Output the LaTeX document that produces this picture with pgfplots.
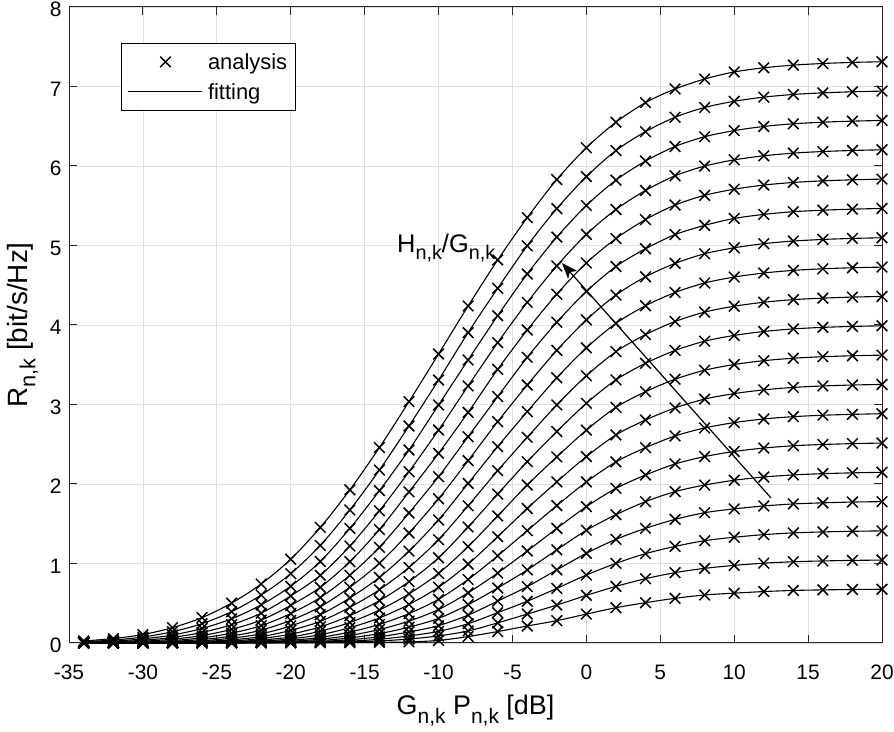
\documentclass[border=0pt]{standalone}
\usepackage{fontspec}
\setmainfont{Liberation Sans}
\usepackage{graphicx}
\usepackage{pgfplots}
\usepackage{pgfplotstable}
\pgfplotsset{compat=1.18}
\usetikzlibrary{arrows.meta}
\newcommand{\sub}[1]{\raisebox{-0.3em}{\scalebox{0.78}{#1}}}
\definecolor{gridgray}{RGB}{223,223,223}
\definecolor{axgray}{RGB}{38,38,38}

\pgfplotstableread{
x k0 k1 k2 k3 k4 k5 k6 k7 k8 k9 k10 k11 k12 k13 k14 k15 k16 k17 k18
-34 0.000 0.000 0.000 0.001 0.001 0.001 0.001 0.002 0.002 0.002 0.002 0.002 0.003 0.004 0.005 0.007 0.011 0.017 0.025
-32 0.000 0.000 0.001 0.001 0.001 0.002 0.002 0.002 0.002 0.003 0.003 0.004 0.005 0.007 0.010 0.016 0.023 0.037 0.056
-30 0.000 0.001 0.001 0.002 0.002 0.002 0.003 0.003 0.003 0.003 0.004 0.006 0.009 0.015 0.022 0.034 0.052 0.075 0.106
-28 0.001 0.001 0.002 0.002 0.003 0.003 0.003 0.003 0.004 0.006 0.008 0.013 0.020 0.031 0.048 0.070 0.100 0.142 0.193
-26 0.001 0.002 0.002 0.003 0.003 0.003 0.004 0.006 0.008 0.012 0.019 0.028 0.044 0.065 0.093 0.133 0.183 0.243 0.319
-24 0.002 0.002 0.003 0.003 0.004 0.005 0.007 0.011 0.017 0.025 0.040 0.061 0.087 0.124 0.172 0.230 0.304 0.394 0.502
-22 0.002 0.003 0.004 0.005 0.007 0.010 0.016 0.023 0.037 0.056 0.080 0.115 0.162 0.218 0.288 0.375 0.480 0.603 0.742
-20 0.002 0.004 0.006 0.009 0.015 0.022 0.034 0.052 0.075 0.111 0.159 0.215 0.284 0.370 0.473 0.592 0.714 0.872 1.054
-18 0.003 0.008 0.013 0.020 0.031 0.048 0.070 0.104 0.149 0.203 0.272 0.356 0.456 0.572 0.701 0.851 1.025 1.228 1.454
-16 0.004 0.014 0.023 0.041 0.064 0.095 0.138 0.193 0.258 0.344 0.449 0.567 0.702 0.852 1.023 1.220 1.442 1.673 1.926
-14 0.007 0.026 0.047 0.078 0.118 0.170 0.234 0.315 0.415 0.533 0.670 0.825 1.004 1.204 1.427 1.663 1.916 2.176 2.459
-12 0.014 0.050 0.089 0.139 0.199 0.275 0.370 0.485 0.618 0.772 0.951 1.156 1.384 1.636 1.901 2.155 2.428 2.730 3.036
-10 0.032 0.089 0.146 0.218 0.309 0.421 0.550 0.702 0.875 1.072 1.300 1.548 1.814 2.092 2.386 2.679 2.994 3.308 3.635
-8 0.081 0.151 0.243 0.351 0.482 0.631 0.799 0.992 1.213 1.459 1.726 2.008 2.294 2.595 2.901 3.233 3.560 3.904 4.239
-6 0.144 0.253 0.382 0.527 0.692 0.880 1.096 1.337 1.598 1.874 2.168 2.470 2.784 3.099 3.442 3.778 4.117 4.461 4.818
-4 0.214 0.364 0.525 0.709 0.919 1.157 1.413 1.692 1.987 2.281 2.587 2.910 3.245 3.593 3.937 4.285 4.642 4.996 5.350
-2 0.281 0.477 0.687 0.920 1.172 1.442 1.728 2.027 2.341 2.660 2.995 3.336 3.681 4.035 4.388 4.743 5.106 5.464 5.830
0 0.364 0.599 0.855 1.128 1.418 1.715 2.026 2.345 2.677 3.015 3.361 3.712 4.065 4.422 4.780 5.140 5.503 5.866 6.230
2 0.444 0.712 1.002 1.304 1.614 1.945 2.278 2.617 2.964 3.310 3.665 4.021 4.377 4.736 5.087 5.453 5.822 6.194 6.551
4 0.507 0.809 1.124 1.442 1.778 2.113 2.457 2.805 3.161 3.518 3.879 4.242 4.606 4.959 5.326 5.692 6.062 6.432 6.797
6 0.562 0.885 1.215 1.555 1.904 2.252 2.604 2.957 3.318 3.680 4.044 4.409 4.775 5.137 5.509 5.877 6.245 6.613 6.969
8 0.604 0.939 1.287 1.639 1.987 2.345 2.705 3.068 3.431 3.796 4.162 4.528 4.896 5.253 5.631 5.999 6.368 6.736 7.094
10 0.627 0.976 1.330 1.687 2.047 2.409 2.772 3.137 3.503 3.869 4.236 4.603 4.971 5.340 5.708 6.077 6.445 6.814 7.183
12 0.647 1.004 1.363 1.724 2.088 2.452 2.818 3.184 3.551 3.918 4.286 4.654 5.023 5.391 5.760 6.128 6.497 6.866 7.235
14 0.661 1.022 1.385 1.749 2.114 2.481 2.847 3.215 3.582 3.951 4.319 4.687 5.056 5.425 5.793 6.162 6.531 6.900 7.269
16 0.668 1.032 1.397 1.763 2.130 2.497 2.865 3.233 3.601 3.970 4.338 4.707 5.076 5.444 5.813 6.182 6.551 6.920 7.289
18 0.673 1.039 1.405 1.773 2.140 2.508 2.876 3.245 3.613 3.982 4.351 4.720 5.089 5.457 5.826 6.195 6.564 6.933 7.303
20 0.676 1.043 1.410 1.778 2.147 2.515 2.884 3.252 3.621 3.990 4.359 4.728 5.097 5.466 5.835 6.204 6.573 6.942 7.311
}\rdata

\begin{document}
\begin{tikzpicture}[x=1bp,y=1bp]
\fill[white] (0,0) rectangle (894,732);
\path[use as bounding box] (0,0) rectangle (894,732);
\begin{axis}[
  at={(69bp,89bp)}, anchor=south west,
  scale only axis, width=813bp, height=636bp,
  xmin=-35, xmax=20, ymin=0, ymax=8,
  xtick={-35,-30,-25,-20,-15,-10,-5,0,5,10,15,20},
  xticklabels={-35,-30,-25,-20,-15,-10,-5,0,5,10,15,20},
  ytick={0,1,2,3,4,5,6,7,8},
  yticklabels={0,1,2,3,4,5,6,7,8},
  tick align=inside, xtick pos=both, ytick pos=both,
  major tick length=8bp,
  grid=major,
  major grid style={draw=gridgray, line width=0.8bp},
  axis line style={draw=axgray, line width=1bp},
  tick style={draw=axgray, line width=1bp},
  tick label style={font=\fontsize{21}{25}\selectfont, text=black},
  xticklabel style={anchor=base, yshift=-37bp},
  yticklabel style={anchor=east, xshift=-4bp, yshift=-2.5bp},
  clip=false,
  legend style={at={(axis description cs:0.0640,0.9434)}, anchor=north west,
    draw=black, line width=0.8bp, fill=white,
    font=\fontsize{22}{26}\selectfont,
    inner xsep=6.5bp, inner ysep=6.5bp, row sep=6bp,
    nodes={inner sep=2bp, text height=18bp, text depth=2bp},
    /tikz/every odd column/.append style={column sep=3bp}},
  legend cell align=left,
  legend image code/.code={\draw[mark repeat=2,mark phase=2,#1] plot coordinates {(0bp,0bp) (37bp,0bp) (74bp,0bp)};},
]
\addplot[black, only marks, mark=x, mark size=7.5bp, line width=1.5bp] table[x=x,y=k0]{\rdata};
\addlegendentry{analysis}
\addplot[black, line width=1.1bp, smooth, no marks] table[x=x,y=k0]{\rdata};
\addlegendentry{fitting}
\pgfplotsinvokeforeach{1,...,18}{
  \addplot[black, only marks, mark=x, mark size=7.5bp, line width=1.5bp, forget plot] table[x=x,y=k#1]{\rdata};
  \addplot[black, line width=1.1bp, smooth, no marks, forget plot] table[x=x,y=k#1]{\rdata};
}
\draw[black, line width=1.2bp, -{Stealth[length=16bp, width=12bp, inset=4bp]}] (axis cs:12.49,1.824) -- (axis cs:-1.65,4.78);
\node[anchor=base west, inner sep=0pt, font=\fontsize{25.5}{29}\selectfont] at (axis cs:-12.81,4.918) {H\sub{n,k}/G\sub{n,k}};
\end{axis}
\node[anchor=base, inner sep=0pt, font=\fontsize{27}{31}\selectfont] at (475.5,17) {G\sub{n,k} P\sub{n,k} [dB]};
\node[anchor=base, inner sep=0pt, rotate=90, font=\fontsize{28}{32}\selectfont] at (27,407) {R\sub{n,k} [bit/s/Hz]};
\end{tikzpicture}
\end{document}
